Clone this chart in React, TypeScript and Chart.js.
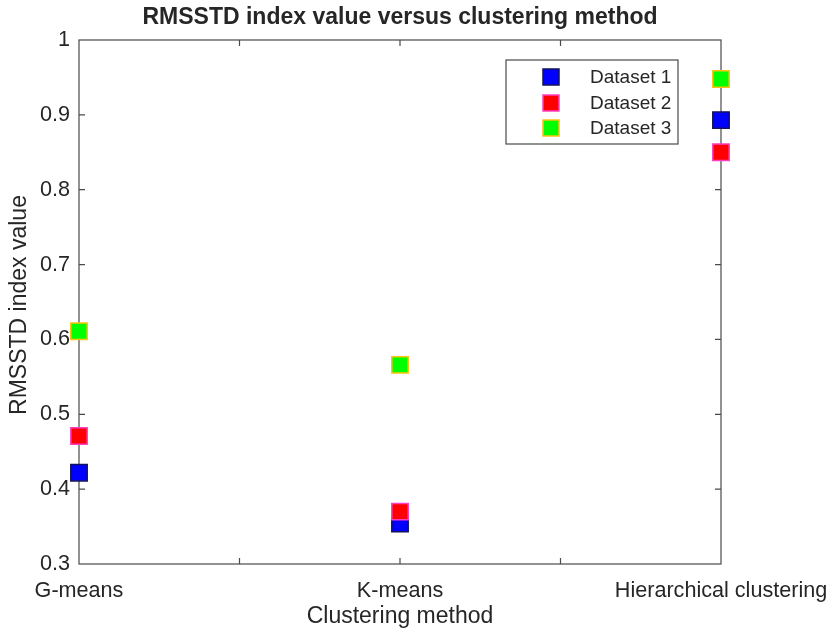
import React, { useEffect, useRef } from "react";
import { Chart, registerables } from "chart.js";

Chart.register(...registerables);

// Clustering methods placed at x = 1, 2, 3
const categories = ["G-means", "K-means", "Hierarchical clustering"];
const categoryPositions = [1, 2, 3];

// RMSSTD index value per method
const dataset1 = [0.422, 0.354, 0.893];
const dataset2 = [0.471, 0.37, 0.85];
const dataset3 = [0.611, 0.566, 0.948];

const seriesNames = ["Dataset 1", "Dataset 2", "Dataset 3"];
const fillColors = ["#0000ff", "#ff0000", "#00ff00"];
const edgeColors = ["#12125e", "#ff3fbf", "#ffc20e"];

const yMin = 0.3;
const yMax = 1;
const yStep = 0.1;
const xMinorTicks = [1.5, 2, 2.5];

const titleText = "RMSSTD index value versus clustering method";
const xLabel = "Clustering method";
const yLabel = "RMSSTD index value";

const FONT = '"Liberation Sans", Arial, Helvetica, sans-serif';
const TEXT = "#262626";
const AXIS = "#4a4a4a";

const framePlugin = {
  id: "matlabFrame",
  beforeDatasetsDraw(chart: any) {
    const { ctx, chartArea, scales } = chart;
    const { left, right, top, bottom } = chartArea;
    ctx.save();
    ctx.strokeStyle = AXIS;
    ctx.lineWidth = 1.2;
    ctx.strokeRect(left, top, right - left, bottom - top);
    const tl = 6;
    ctx.beginPath();
    for (const v of xMinorTicks) {
      const x = scales.x.getPixelForValue(v);
      ctx.moveTo(x, bottom);
      ctx.lineTo(x, bottom - tl);
      ctx.moveTo(x, top);
      ctx.lineTo(x, top + tl);
    }
    for (let v = yMin + yStep; v < yMax - 1e-9; v += yStep) {
      const y = scales.y.getPixelForValue(v);
      ctx.moveTo(left, y);
      ctx.lineTo(left + tl, y);
      ctx.moveTo(right, y);
      ctx.lineTo(right - tl, y);
    }
    ctx.stroke();
    ctx.restore();
  },
  afterDraw(chart: any) {
    const { ctx, chartArea } = chart;
    const { left, right, top, bottom } = chartArea;
    const cx = (left + right) / 2;
    ctx.save();
    ctx.fillStyle = TEXT;
    ctx.textAlign = "center";
    ctx.textBaseline = "middle";

    ctx.font = `bold 23px ${FONT}`;
    ctx.fillText(titleText, cx, 18);

    ctx.font = `23px ${FONT}`;
    ctx.fillText(xLabel, cx, 617);

    ctx.save();
    ctx.translate(20, (top + bottom) / 2 + 3);
    ctx.rotate(-Math.PI / 2);
    ctx.fillText(yLabel, 0, 0);
    ctx.restore();

    // legend
    const bx = 506;
    const by = 60;
    const bw = 172;
    const bh = 84;
    ctx.fillStyle = "#ffffff";
    ctx.fillRect(bx, by, bw, bh);
    ctx.strokeStyle = AXIS;
    ctx.lineWidth = 1.2;
    ctx.strokeRect(bx, by, bw, bh);
    const rows = [77, 103, 128];
    ctx.font = `19px ${FONT}`;
    ctx.textAlign = "left";
    ctx.lineWidth = 1.5;
    seriesNames.forEach((name, i) => {
      const s = 16;
      ctx.fillStyle = fillColors[i];
      ctx.strokeStyle = edgeColors[i];
      ctx.fillRect(551 - s / 2, rows[i] - s / 2, s, s);
      ctx.strokeRect(551 - s / 2, rows[i] - s / 2, s, s);
      ctx.fillStyle = TEXT;
      ctx.fillText(name, 590, rows[i] + 1);
    });
    ctx.restore();
  },
};

export default function App() {
  const canvasRef = useRef<HTMLCanvasElement | null>(null);

  useEffect(() => {
    if (!canvasRef.current) return;
    const series = [dataset1, dataset2, dataset3];
    const chart = new Chart(canvasRef.current, {
      type: "scatter",
      data: {
        datasets: series.map((vals, i) => ({
          label: seriesNames[i],
          data: categoryPositions.map((x, j) => ({ x, y: vals[j] })),
          pointStyle: "rect",
          pointRadius: 11.6,
          pointHoverRadius: 11.6,
          pointBorderWidth: 1.5,
          backgroundColor: fillColors[i],
          borderColor: edgeColors[i],
          showLine: false,
          clip: false,
          order: 3 - i,
        })),
      },
      options: {
        responsive: false,
        animation: false,
        events: [],
        layout: { padding: { top: 40, right: 111, left: 0, bottom: 0 } },
        plugins: {
          legend: { display: false },
          tooltip: { enabled: false },
          title: { display: false },
        },
        scales: {
          x: {
            type: "linear",
            min: 1,
            max: 3,
            afterFit: (s: any) => {
              s.height = 69;
              s.paddingLeft = 0;
              s.paddingRight = 0;
            },
            grid: { display: false, drawTicks: false },
            border: { display: false },
            ticks: {
              stepSize: 0.5,
              autoSkip: false,
              maxRotation: 0,
              padding: 14,
              color: TEXT,
              font: { family: FONT, size: 21.6 },
              callback: (v: any) => {
                const n = Number(v);
                return Number.isInteger(n) ? categories[n - 1] : "";
              },
            },
          },
          y: {
            type: "linear",
            min: yMin,
            max: yMax,
            afterFit: (s: any) => {
              s.width = 79;
              s.paddingTop = 0;
              s.paddingBottom = 0;
            },
            grid: { display: false, drawTicks: false },
            border: { display: false },
            ticks: {
              stepSize: yStep,
              padding: 9,
              color: TEXT,
              font: { family: FONT, size: 21.6 },
              callback: (v: any) => String(Math.round(Number(v) * 10) / 10),
            },
          },
        },
      },
      plugins: [framePlugin],
    });
    return () => chart.destroy();
  }, []);

  return (
    <div style={{ position: "absolute", left: 0, top: 0, width: 832, height: 633, background: "#fff" }}>
      <canvas ref={canvasRef} width={832} height={633} />
    </div>
  );
}
